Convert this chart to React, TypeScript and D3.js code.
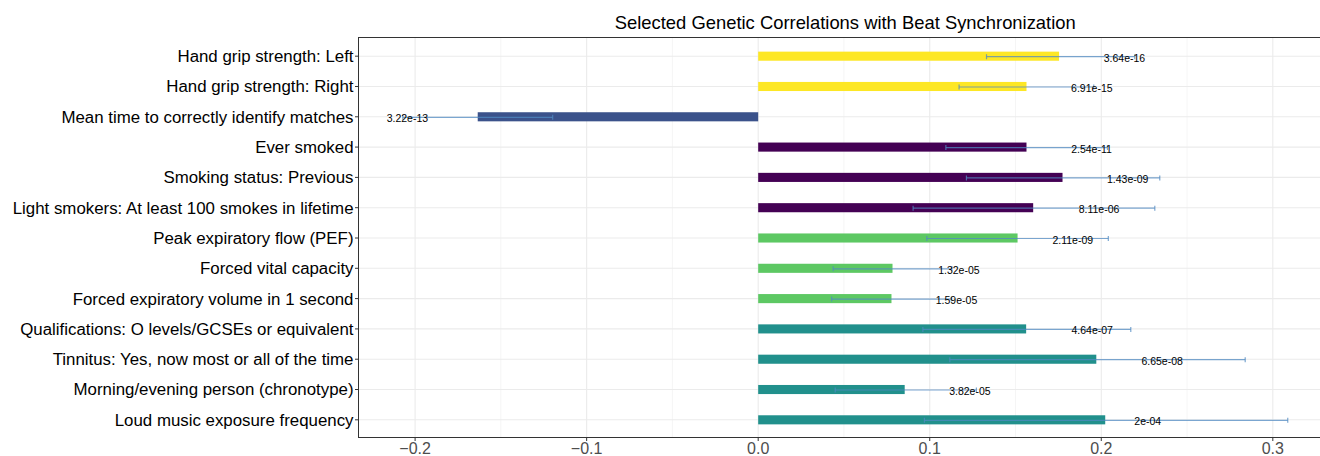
import React from "react";
import * as d3 from "d3";

// Traits, top to bottom
const traits: string[] = [
  "Hand grip strength: Left",
  "Hand grip strength: Right",
  "Mean time to correctly identify matches",
  "Ever smoked",
  "Smoking status: Previous",
  "Light smokers: At least 100 smokes in lifetime",
  "Peak expiratory flow (PEF)",
  "Forced vital capacity",
  "Forced expiratory volume in 1 second",
  "Qualifications: O levels/GCSEs or equivalent",
  "Tinnitus: Yes, now most or all of the time",
  "Morning/evening person (chronotype)",
  "Loud music exposure frequency",
];

// Trait domain used for bar colour
const domains: string[] = [
  "Strength", "Strength", "Cognition", "Smoking", "Smoking", "Smoking",
  "Lung", "Lung", "Lung", "Other", "Other", "Other", "Other",
];

// Genetic correlation estimates
const rg: number[] = [
  0.1754, 0.1564, -0.1635, 0.1564, 0.1774, 0.1603, 0.1512, 0.0783, 0.0777,
  0.1562, 0.1971, 0.0854, 0.2023,
];

// 95% interval bounds
const ciLow: number[] = [
  0.1331, 0.1171, -0.2072, 0.1094, 0.1214, 0.0903, 0.0983, 0.0437, 0.0428,
  0.096, 0.1117, 0.0449, 0.0969,
];
const ciHigh: number[] = [
  0.2195, 0.1956, -0.1198, 0.2036, 0.2341, 0.2312, 0.2041, 0.1129, 0.1126,
  0.2172, 0.2839, 0.1272, 0.3087,
];

// P-value labels and where they sit along the rg axis
const pLabels: string[] = [
  "3.64e-16", "6.91e-15", "3.22e-13", "2.54e-11", "1.43e-09", "8.11e-06",
  "2.11e-09", "1.32e-05", "1.59e-05", "4.64e-07", "6.65e-08", "3.82e-05",
  "2e-04",
];
const pLabelAt: number[] = [
  0.2135, 0.1945, -0.2045, 0.1943, 0.2154, 0.1987, 0.1834, 0.117, 0.1156,
  0.1947, 0.2355, 0.1234, 0.2271,
];

const xTicks: number[] = [-0.2, -0.1, 0.0, 0.1, 0.2, 0.3];
const xMinor: number[] = [-0.15, -0.05, 0.05, 0.15, 0.25];

const domainKeys = ["Strength", "Cognition", "Smoking", "Lung", "Other"];
const domainColors = ["#FDE725", "#3B528B", "#440154", "#5DC863", "#21908C"];

const W = 1320;
const H = 456;
const panel = { left: 358.5, right: 1332, top: 37.5, bottom: 437.5 };
const FONT = "'Liberation Sans', Arial, Helvetica, sans-serif";

export default function App() {
  const lo = d3.min(ciLow) as number;
  const hi = d3.max(ciHigh) as number;
  const pad = (hi - lo) * 0.05;
  const x = d3
    .scaleLinear()
    .domain([lo - pad, hi + pad])
    .range([panel.left, panel.right]);

  // discrete axis with 0.6 units of expansion on each end
  const step = (panel.bottom - panel.top) / (traits.length + 0.2);
  const y = d3
    .scalePoint<string>()
    .domain(traits)
    .range([panel.top + step * 0.6, panel.bottom - step * 0.6]);
  const cy = (t: string) => (y(t) as number) + 0.5;
  const barH = step * 0.3;

  const color = d3.scaleOrdinal<string, string>().domain(domainKeys).range(domainColors);

  const rows = traits.map((t, i) => ({
    t,
    i,
    rg: rg[i],
    lo: ciLow[i],
    hi: ciHigh[i],
    p: pLabels[i],
    px: pLabelAt[i],
    c: color(domains[i]),
  }));

  return (
    <svg
      width={W}
      height={H}
      style={{ position: "absolute", left: 0, top: 0, display: "block", background: "#fff" }}
      fontFamily={FONT}
    >
      <rect x={0} y={0} width={W} height={H} fill="#ffffff" />
      <defs>
        <clipPath id="panel-clip">
          <rect x={panel.left} y={panel.top} width={panel.right - panel.left} height={panel.bottom - panel.top} />
        </clipPath>
      </defs>

      {/* grid */}
      <g clipPath="url(#panel-clip)">
        {xMinor.map((v) => (
          <line key={"mn" + v} x1={x(v)} x2={x(v)} y1={panel.top} y2={panel.bottom} stroke="#f2f2f2" strokeWidth={0.8} />
        ))}
        {xTicks.map((v) => (
          <line key={"mj" + v} x1={x(v)} x2={x(v)} y1={panel.top} y2={panel.bottom} stroke="#ebebeb" strokeWidth={1.1} />
        ))}
        {traits.map((t) => (
          <line key={"h" + t} x1={panel.left} x2={panel.right} y1={cy(t)} y2={cy(t)} stroke="#ebebeb" strokeWidth={1.1} />
        ))}
      </g>

      {/* bars */}
      <g clipPath="url(#panel-clip)">
        {rows.map((r) => (
          <rect
            key={"b" + r.i}
            x={Math.min(x(0), x(r.rg))}
            y={cy(r.t) - barH / 2}
            width={Math.abs(x(r.rg) - x(0))}
            height={barH}
            fill={r.c}
          />
        ))}
      </g>

      {/* error bars */}
      <g clipPath="url(#panel-clip)" stroke="#5089c2" strokeOpacity={0.75} strokeWidth={1.2} fill="none">
        {rows.map((r) => (
          <g key={"e" + r.i}>
            <line x1={x(r.lo)} x2={x(r.hi)} y1={cy(r.t) + 0.5} y2={cy(r.t) + 0.5} />
            <line x1={x(r.lo)} x2={x(r.lo)} y1={cy(r.t) - 2} y2={cy(r.t) + 3} />
            <line x1={x(r.hi)} x2={x(r.hi)} y1={cy(r.t) - 2} y2={cy(r.t) + 3} />
          </g>
        ))}
      </g>

      {/* p-value labels */}
      <g fontSize={10.5} fill="#000" textAnchor="middle">
        {rows.map((r) => (
          <text key={"p" + r.i} x={x(r.px)} y={cy(r.t) + 1.5} dominantBaseline="central">
            {r.p}
          </text>
        ))}
      </g>

      {/* panel border */}
      <rect
        x={panel.left}
        y={panel.top}
        width={panel.right - panel.left}
        height={panel.bottom - panel.top}
        fill="none"
        stroke="#333333"
        strokeWidth={1}
      />

      {/* y axis */}
      <g>
        {traits.map((t) => (
          <g key={"yt" + t}>
            <line x1={panel.left - 3.5} x2={panel.left} y1={cy(t)} y2={cy(t)} stroke="#333333" strokeWidth={1} />
            <text x={panel.left - 5} y={cy(t)} dy="0.35em" textAnchor="end" fontSize={16.85} fill="#000">
              {t}
            </text>
          </g>
        ))}
      </g>

      {/* x axis */}
      <g>
        {xTicks.map((v) => (
          <g key={"xt" + v}>
            <line x1={x(v)} x2={x(v)} y1={panel.bottom} y2={panel.bottom + 3.5} stroke="#333333" strokeWidth={1} />
            <text x={x(v)} y={panel.bottom + 16.5} textAnchor="middle" fontSize={16} fill="#4d4d4d">
              {d3.format(".1f")(v)}
            </text>
          </g>
        ))}
      </g>

      {/* title */}
      <text x={(panel.left + panel.right) / 2} y={28.5} textAnchor="middle" fontSize={18.4} fill="#000">
        Selected Genetic Correlations with Beat Synchronization
      </text>
    </svg>
  );
}
